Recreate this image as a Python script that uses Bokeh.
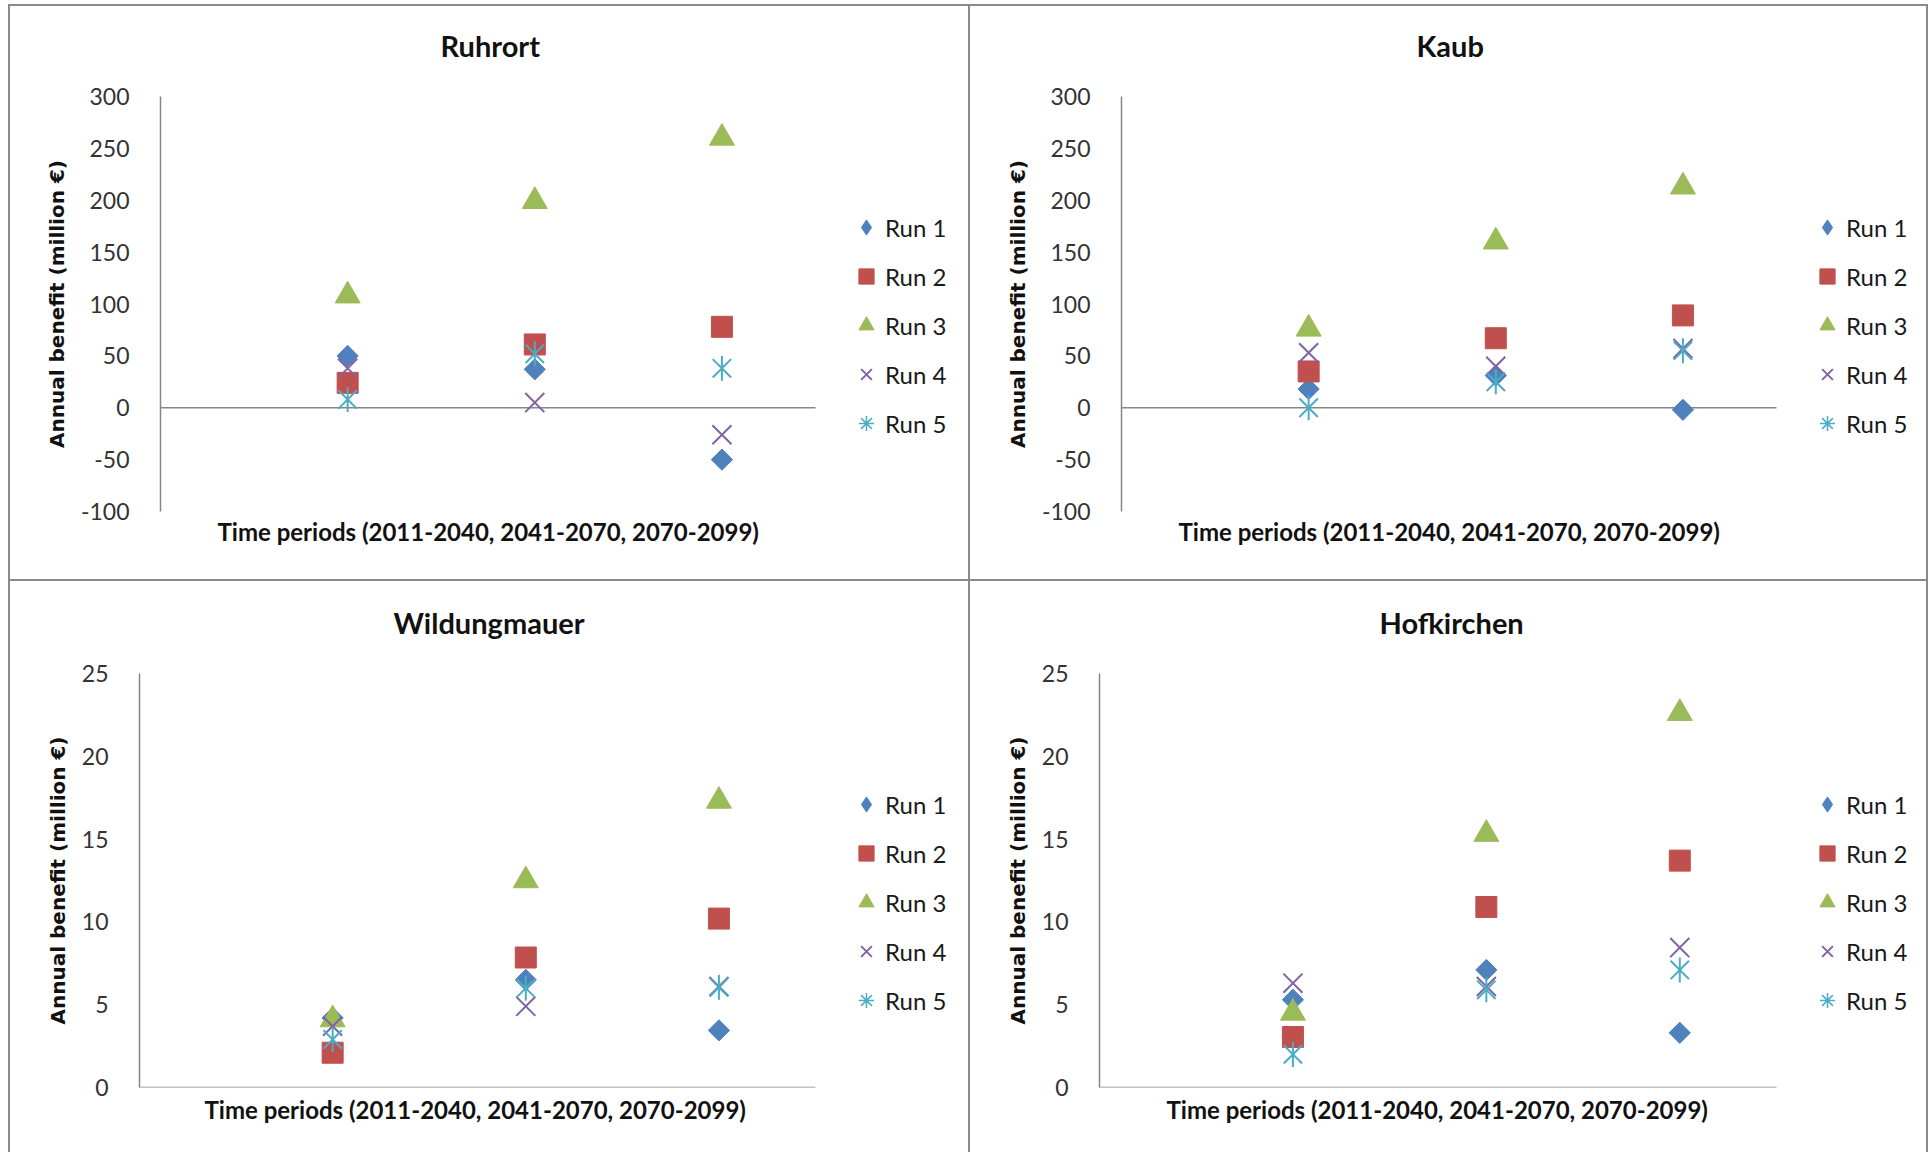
import math

from bokeh.embed import file_html
from bokeh.layouts import column, row
from bokeh.models import FixedTicker, Legend, LegendItem, Range1d, Title
from bokeh.plotting import figure
from bokeh.resources import INLINE

# x positions of the three 30-year periods; the time axis runs from 0 to 3.5
periods = [1, 2, 3]
x_axis_end = 3.5
run_names = ["Run 1", "Run 2", "Run 3", "Run 4", "Run 5"]
x_axis_title = "Time periods (2011-2040, 2041-2070, 2070-2099)"
y_axis_title = "Annual benefit (million €)"

# Rhine gauges (million € per year)
ruhrort_run1 = [50, 37, -50]
ruhrort_run2 = [24, 61, 78]
ruhrort_run3 = [108, 199, 260]
ruhrort_run4 = [38, 5, -26]
ruhrort_run5 = [8, 52, 38]

kaub_run1 = [18, 31, -2]
kaub_run2 = [35, 67, 89]
kaub_run3 = [76, 160, 213]
kaub_run4 = [53, 40, 57]
kaub_run5 = [0, 25, 55]

# Danube gauges (million € per year)
wildungmauer_run1 = [4.2, 6.5, 3.45]
wildungmauer_run2 = [2.1, 7.85, 10.2]
wildungmauer_run3 = [4.1, 12.5, 17.3]
wildungmauer_run4 = [3.7, 4.9, 6.1]
wildungmauer_run5 = [2.9, 6.0, 6.05]

hofkirchen_run1 = [5.3, 7.1, 3.3]
hofkirchen_run2 = [3.05, 10.9, 13.7]
hofkirchen_run3 = [4.5, 15.3, 22.6]
hofkirchen_run4 = [6.3, 6.1, 8.45]
hofkirchen_run5 = [2.0, 5.9, 7.1]

rhine_ticks = [-100, -50, 0, 50, 100, 150, 200, 250, 300]
danube_ticks = [0, 5, 10, 15, 20, 25]

run_colors = ["#4F81BD", "#C0504D", "#9BBB59", "#8064A2", "#4BACC6"]
AXIS_GRAY = "#868686"
TEXT_FONT = "Lato"


def station_panel(name, series, ticks, size, left, top, bottom, axis_px, placement):
    """One gauge chart.

    size: (width, height) of the panel in px
    left/top/bottom: space reserved around the plot area
    axis_px: on-screen length of the 0..3.5 time axis
    placement: (title_x, xlabel_x, xlabel_standoff, legend_x, legend_y)
    """
    width, height = size
    title_x, xlabel_x, xlabel_standoff, legend_x, legend_y = placement
    # the plot area reaches the right edge so the key can sit beside the time axis
    x_end = x_axis_end * (width - left) / axis_px
    p = figure(
        width=width, height=height,
        output_backend="svg", toolbar_location=None,
        x_range=Range1d(0, x_end), y_range=Range1d(ticks[0], ticks[-1]),
        x_axis_location=None,
        min_border_left=left, min_border_right=0,
        min_border_top=top, min_border_bottom=bottom,
        styles={"background-color": "white"},
    )
    p.outline_line_color = None
    p.grid.visible = False
    p.background_fill_color = "white"
    p.border_fill_color = "white"

    # chart title (outermost) plus a thin spacer between it and the plot area
    p.title = Title(
        text=name, align="left", offset=title_x,
        text_font=TEXT_FONT, text_font_style="bold", text_font_size="29px",
        text_color="#111111", standoff=36, vertical_align="bottom",
    )
    p.add_layout(Title(text=" ", text_font_size="2px", standoff=12), "above")

    # caption of the time axis
    p.add_layout(Title(
        text=x_axis_title, align="left", offset=xlabel_x,
        text_font=TEXT_FONT, text_font_style="bold", text_font_size="24px",
        text_color="#111111", standoff=xlabel_standoff, vertical_align="top",
    ), "below")

    # horizontal time axis crossing at zero
    p.segment(x0=[0], y0=[0], x1=[x_axis_end], y1=[0], line_color=AXIS_GRAY, line_width=1.5)

    p.scatter(periods, series[0], marker="square", angle=math.pi / 4, size=15,
              fill_color=run_colors[0], line_color=run_colors[0])
    r2 = p.scatter(periods, series[1], marker="square", size=21,
                   fill_color=run_colors[1], line_color=run_colors[1])
    r3 = p.scatter(periods, series[2], marker="triangle", size=25,
                   fill_color=run_colors[2], line_color=run_colors[2])
    r4 = p.scatter(periods, series[3], marker="x", size=27,
                   line_color=run_colors[3], line_width=2)
    p.scatter(periods, series[4], marker="x", size=26,
              line_color=run_colors[4], line_width=2)
    p.scatter(periods, series[4], marker="dash", angle=math.pi / 2, size=25,
              line_color=run_colors[4], line_width=2)

    # key swatches (the key draws markers unrotated)
    key1 = p.scatter(periods, series[0], marker="diamond", size=16, visible=False,
                     fill_color=run_colors[0], line_color=run_colors[0])
    key5 = p.scatter(periods, series[4], marker="asterisk", size=16, visible=False,
                     line_color=run_colors[4], line_width=1.5)

    yax = p.yaxis[0]
    yax.ticker = FixedTicker(ticks=ticks)
    yax.major_label_overrides = {t: str(t) for t in ticks if t < 0}
    yax.axis_line_color = AXIS_GRAY
    yax.axis_line_width = 1.5
    yax.major_tick_line_color = None
    yax.minor_tick_line_color = None
    yax.major_tick_out = 0
    yax.major_tick_in = 0
    yax.major_label_standoff = 31
    yax.major_label_text_font = TEXT_FONT
    yax.major_label_text_font_size = "23px"
    yax.major_label_text_color = "#333333"
    yax.axis_label = y_axis_title
    yax.axis_label_text_font = "DejaVu Sans"
    yax.axis_label_text_font_style = "bold"
    yax.axis_label_text_font_size = "20px"
    yax.axis_label_text_color = "#111111"
    yax.axis_label_standoff = 9

    items = [
        LegendItem(label=run_names[0], renderers=[key1]),
        LegendItem(label=run_names[1], renderers=[r2]),
        LegendItem(label=run_names[2], renderers=[r3]),
        LegendItem(label=run_names[3], renderers=[r4]),
        LegendItem(label=run_names[4], renderers=[key5]),
    ]
    legend = Legend(
        items=items, location=(legend_x, legend_y), orientation="vertical",
        glyph_width=38, glyph_height=44, spacing=5, padding=0, margin=0,
        label_standoff=0, border_line_color=None, background_fill_alpha=0,
        label_text_font=TEXT_FONT, label_text_font_size="24px", label_text_color="#1a1a1a",
    )
    p.add_layout(legend, "center")
    return p


p_ruhrort = station_panel(
    "Ruhrort",
    [ruhrort_run1, ruhrort_run2, ruhrort_run3, ruhrort_run4, ruhrort_run5],
    rhine_ticks, (958, 573), 150, 90, 68, 655, (280, 57, 10, 687, 66),
)
p_kaub = station_panel(
    "Kaub",
    [kaub_run1, kaub_run2, kaub_run3, kaub_run4, kaub_run5],
    rhine_ticks, (956, 573), 151, 90, 68, 655, (295, 57, 10, 687, 66),
)
p_wildungmauer = station_panel(
    "Wildungmauer",
    [wildungmauer_run1, wildungmauer_run2, wildungmauer_run3, wildungmauer_run4, wildungmauer_run5],
    danube_ticks, (958, 571), 129, 92, 65, 676, (254, 65, 14, 708, 65),
)
p_hofkirchen = station_panel(
    "Hofkirchen",
    [hofkirchen_run1, hofkirchen_run2, hofkirchen_run3, hofkirchen_run4, hofkirchen_run5],
    danube_ticks, (956, 571), 129, 92, 65, 677, (280, 67, 14, 709, 65),
)

grid = column(
    row(p_ruhrort, p_kaub, spacing=2),
    row(p_wildungmauer, p_hofkirchen, spacing=2),
    spacing=2,
    styles={
        "background-color": "#8a8a8a",
        "padding": "2px 2px 0px 2px",
        "margin": "4px 0px 0px 8px",
    },
)

open("out.html", "w").write(file_html(grid, INLINE))
